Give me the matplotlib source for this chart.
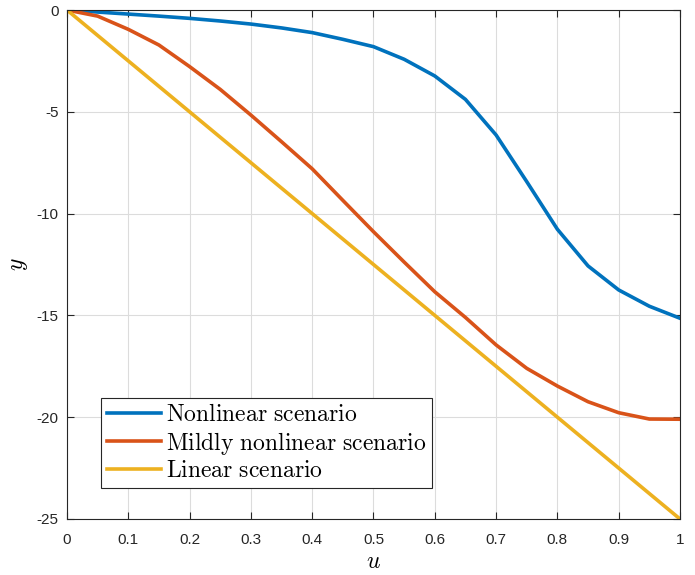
import numpy as np
import matplotlib
matplotlib.use("Agg")
import matplotlib.pyplot as plt

plt.rcParams['mathtext.fontset'] = 'cm'
plt.rcParams['font.family'] = ['Liberation Sans', 'DejaVu Sans']

# data
u = [0.0, 0.05, 0.1, 0.15, 0.2, 0.25, 0.3, 0.35, 0.4, 0.45, 0.5,
     0.55, 0.6, 0.65, 0.7, 0.75, 0.8, 0.85, 0.9, 0.95, 1.0]
y_nonlinear = [0.0, -0.1, -0.2, -0.3, -0.41, -0.54, -0.69, -0.88, -1.11, -1.44, -1.8,
               -2.42, -3.24, -4.39, -6.14, -8.43, -10.77, -12.57, -13.75, -14.55, -15.14]
y_mild = [0.0, -0.3, -0.95, -1.72, -2.78, -3.9, -5.16, -6.47, -7.8, -9.35, -10.89,
          -12.38, -13.84, -15.1, -16.45, -17.6, -18.47, -19.24, -19.78, -20.09, -20.1]
y_linear = [0.0, -1.25, -2.5, -3.75, -5.0, -6.25, -7.5, -8.75, -10.0, -11.25, -12.5,
            -13.75, -15.0, -16.25, -17.5, -18.75, -20.0, -21.25, -22.5, -23.75, -25.0]

labels = [r'$\mathrm{Nonlinear\ scenario}$',
          r'$\mathrm{Mildly\ nonlinear\ scenario}$',
          r'$\mathrm{Linear\ scenario}$']
colors = ['#0072BD', '#D95319', '#EDB120']

fig = plt.figure(figsize=(6.95, 5.75), dpi=100)
ax = fig.add_axes([0.0964, 0.0974, 0.882, 0.8852])

for ys, lab, c in zip([y_nonlinear, y_mild, y_linear], labels, colors):
    ax.plot(u, ys, color=c, linewidth=2.6, label=lab)

ax.set_xlim(0, 1)
ax.set_ylim(-25, 0)
ax.set_xticks(np.arange(0, 1.01, 0.1))
ax.set_xticklabels(['0', '0.1', '0.2', '0.3', '0.4', '0.5', '0.6', '0.7', '0.8', '0.9', '1'])
ax.set_yticks([-25, -20, -15, -10, -5, 0])
ax.set_yticklabels(['-25', '-20', '-15', '-10', '-5', '0'])
ax.tick_params(direction='in', top=True, right=True, length=5, width=0.8,
               labelsize=11, colors='#262626')
ax.tick_params(axis='x', pad=10)
ax.tick_params(axis='y', pad=6)
ax.grid(True, color='#dcdcdc', linewidth=0.8)
ax.set_axisbelow(True)
for s in ax.spines.values():
    s.set_color('#262626')
    s.set_linewidth(0.8)

ax.set_xlabel(r'$u$', fontsize=17, labelpad=3)
ax.set_ylabel(r'$y$', fontsize=17, labelpad=5)

leg = ax.legend(loc='lower left', bbox_to_anchor=(0.055, 0.061), fontsize=17,
                handlelength=2.3, handletextpad=0.2, labelspacing=0.15,
                borderpad=0.25, fancybox=False, framealpha=1, borderaxespad=0)
leg.get_frame().set_edgecolor('#262626')
leg.get_frame().set_linewidth(0.8)

fig.savefig('out.png', dpi=100)
